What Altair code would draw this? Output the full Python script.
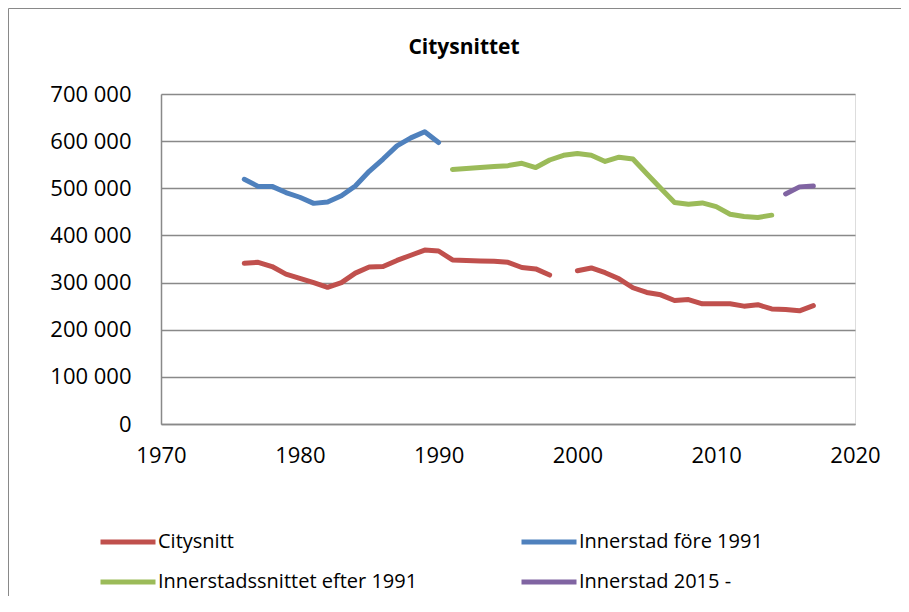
import altair as alt
import pandas as pd

series_names = ["Citysnitt", "Innerstad före 1991", "Innerstadssnittet efter 1991", "Innerstad 2015 -"]
series_colors = ["#C0504D", "#4F81BD", "#9BBB59", "#8064A2"]

city_a_years = list(range(1976, 1999))
city_a_vals = [341, 343, 334, 318, 309, 300, 290, 300, 320, 333, 334, 347, 358, 369, 367,
               348, 347, 346, 345, 343, 332, 329, 316]
city_b_years = list(range(2000, 2018))
city_b_vals = [325, 331, 321, 308, 289, 279, 274, 262, 264, 255, 255, 255, 250, 253, 244, 243, 240, 251]

inner_pre_years = list(range(1976, 1991))
inner_pre_vals = [519, 504, 504, 491, 481, 468, 471, 484, 505, 536, 562, 590, 607, 620, 597]

inner_post_years = list(range(1991, 2015))
inner_post_vals = [540, 542, 544, 546, 548, 553, 544, 560, 570, 574, 570, 557, 566, 562, 531,
                   500, 470, 466, 469, 461, 445, 440, 438, 443]

inner_2015_years = [2015, 2016, 2017]
inner_2015_vals = [488, 503, 505]

x_ticks = [1970, 1980, 1990, 2000, 2010, 2020]
y_ticks = [0, 100000, 200000, 300000, 400000, 500000, 600000, 700000]

rows = []
def add(name, seg, years, vals):
    for yr, v in zip(years, vals):
        rows.append({"series": name, "seg": seg, "year": yr, "value": v * 1000})

add(series_names[0], "a", city_a_years, city_a_vals)
add(series_names[0], "b", city_b_years, city_b_vals)
add(series_names[1], "a", inner_pre_years, inner_pre_vals)
add(series_names[2], "a", inner_post_years, inner_post_vals)
add(series_names[3], "a", inner_2015_years, inner_2015_vals)
df = pd.DataFrame(rows)

FONT = "Open Sans"
GRID = "#898989"

lines = alt.Chart(df).mark_line(strokeWidth=5, strokeCap="round", strokeJoin="round").encode(
    x=alt.X("year:Q", scale=alt.Scale(domain=[1970, 2020], nice=False),
            axis=alt.Axis(values=x_ticks, format="d", title=None, grid=False, ticks=False,
                          domain=True, domainColor=GRID, domainWidth=1.5,
                          labelFlush=False, labelOverlap=False,
                          labelFont=FONT, labelFontSize=22, labelColor="#000000",
                          labelPadding=21)),
    y=alt.Y("value:Q", scale=alt.Scale(domain=[0, 700000], nice=False),
            axis=alt.Axis(values=y_ticks, title=None, grid=True, gridColor=GRID, gridWidth=1.5,
                          ticks=False, domain=True, domainColor=GRID, domainWidth=1.5,
                          labelFont=FONT, labelFontSize=22, labelColor="#000000",
                          labelPadding=30,
                          labelExpr="replace(format(datum.value, ','), /,/g, ' ')")),
    color=alt.Color("series:N", sort=series_names,
                    scale=alt.Scale(domain=series_names, range=series_colors),
                    legend=alt.Legend(orient="none", legendX=-63, legendY=418, columns=2,
                                      direction="horizontal",
                                      title=None, symbolType="stroke", symbolStrokeWidth=5,
                                      symbolSize=3025, labelOffset=0, labelFont=FONT,
                                      labelFontSize=20, labelColor="#000000", labelLimit=500,
                                      columnPadding=93, rowPadding=-15)),
    detail="seg:N",
    order="year:Q",
)

border = alt.Chart(alt.Data(values=[{"a": 1}])).mark_rect(
    filled=False, stroke=GRID, strokeWidth=1
).encode(
    x=alt.value(-152.5), x2=alt.value(1000), y=alt.value(-85.5), y2=alt.value(1000)
)

chart = alt.layer(border, lines).properties(
    width=694, height=330,
    autosize=alt.AutoSizeParams(type="none"),
    padding={"left": 153, "top": 86, "right": 46, "bottom": 172},
    title=alt.TitleParams("Citysnittet", font=FONT, fontSize=21, fontWeight="bold",
                          color="#000000", anchor="middle", dx=-44, offset=0, dy=50),
).configure_view(stroke=None).configure(background="white")

chart.save("out.html", embed_options={"renderer": "svg", "actions": False})
